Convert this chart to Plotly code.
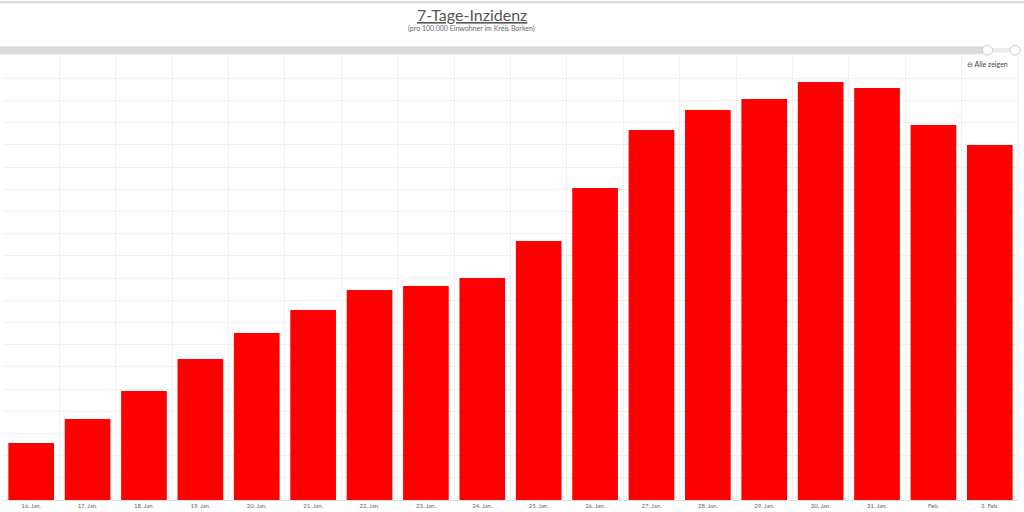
import plotly.graph_objects as go

# 7-day incidence per 100,000, Kreis Borken
dates = ["16. Jan.", "17. Jan.", "18. Jan.", "19. Jan.", "20. Jan.", "21. Jan.",
         "22. Jan.", "23. Jan.", "24. Jan.", "25. Jan.", "26. Jan.", "27. Jan.",
         "28. Jan.", "29. Jan.", "30. Jan.", "31. Jan.", "Feb.", "2. Feb."]
incidence = [257, 365, 491, 635, 752, 856, 946, 964, 1000, 1167, 1405, 1667,
             1757, 1806, 1883, 1856, 1689, 1599]

bar_color = "#ff0000"
grid_color = "#f0f0f0"
text_color = "#666666"

fig = go.Figure()
fig.add_trace(go.Bar(
    x=dates,
    y=incidence,
    marker=dict(color=bar_color, line=dict(width=0)),
    hovertemplate="%{x}: %{y}<extra></extra>",
))

fig.update_layout(
    width=1024,
    height=512,
    margin=dict(l=3, r=6, t=56, b=12),
    paper_bgcolor="white",
    plot_bgcolor="white",
    bargap=0.19,
    showlegend=False,
    font=dict(family="Lato, Open Sans, sans-serif", color=text_color),
)

fig.update_xaxes(
    type="category",
    tickson="boundaries",
    showgrid=True,
    gridcolor=grid_color,
    gridwidth=1,
    ticks="",
    tickfont=dict(size=6, color=text_color),
    showline=True,
    linecolor="#dddddd",
    fixedrange=True,
)
fig.update_yaxes(
    range=[0, 2000],
    dtick=100,
    showgrid=True,
    gridcolor=grid_color,
    gridwidth=1,
    showticklabels=False,
    zeroline=False,
    fixedrange=True,
)

# title and subtitle
fig.add_annotation(text="<u>7-Tage-Inzidenz</u>", xref="paper", yref="paper", x=0.462, y=1.094,
                   xanchor="center", yanchor="middle", showarrow=False,
                   font=dict(size=16, color="#555555"))
fig.add_annotation(text="(pro 100.000 Einwohner im Kreis Borken)", xref="paper", yref="paper",
                   x=0.462, y=1.063, xanchor="center", yanchor="middle", showarrow=False,
                   font=dict(size=7, color="#666666"))

# navigator strip above the plot, top border and zoom reset label
fig.add_shape(type="rect", xref="paper", yref="paper", x0=-0.003, x1=0.968,
              y0=1.004, y1=1.022, fillcolor="#dcdcdc", line=dict(width=0), layer="below")
fig.add_shape(type="rect", xref="paper", yref="paper", x0=0.968, x1=0.996,
              y0=1.008, y1=1.018, fillcolor="#ececec", line=dict(width=0), layer="below")
for hx in [0.970, 0.997]:
    fig.add_shape(type="circle", xref="paper", yref="paper", x0=hx - 0.005, x1=hx + 0.005,
                  y0=1.002, y1=1.024, fillcolor="white", line=dict(color="#cccccc", width=1))
fig.add_shape(type="line", xref="paper", yref="paper", x0=-0.01, x1=1.01,
              y0=1.121, y1=1.121, line=dict(color="#d8d8d8", width=2))
fig.add_shape(type="line", xref="paper", yref="paper", x0=1.0, x1=1.0,
              y0=0, y1=1.0, line=dict(color="#e8e8e8", width=1))
fig.add_annotation(text="\u2296 Alle zeigen", xref="paper", yref="paper", x=0.992, y=0.981,
                   xanchor="right", yanchor="middle", showarrow=False,
                   font=dict(size=7, color="#444444"))

fig.write_html("out.html", config={"displayModeBar": False},
               post_script="document.body.style.margin='0';")
